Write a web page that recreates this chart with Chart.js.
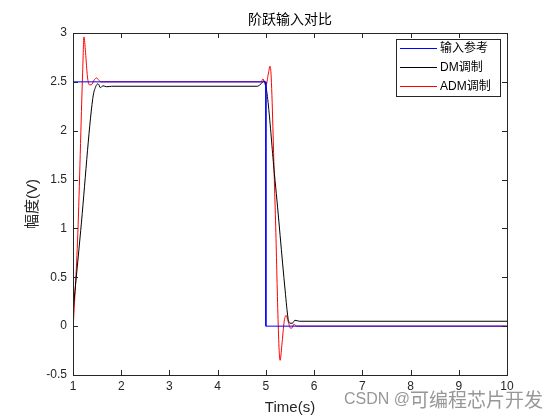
<!DOCTYPE html>
<html>
<head>
<meta charset="utf-8">
<script src="https://cdn.jsdelivr.net/npm/chart.js@4/dist/chart.umd.min.js"></script>
<style>
  html, body { margin: 0; padding: 0; background: #fff; }
  #wrap { width: 560px; height: 420px; }
</style>
</head>
<body>
<div id="wrap"><canvas id="chart" width="560" height="420"></canvas></div>
<script>
// step response comparison: reference input, DM output, ADM output
const seriesLabels = ["输入参考", "DM调制", "ADM调制"];
const seriesColors = ["#0000ff", "#000000", "#ff0000"];

const timeRef = [1, 5, 5, 10];
const inputRef = [2.5, 2.5, 0, 0];

const timeDM = [1, 1.16, 1.41, 1.47, 1.52, 1.57, 1.62, 1.7, 1.8, 4.82, 4.9, 4.96, 5.19, 5.4, 5.46, 5.5, 5.55, 5.6, 5.7, 10];
const dmOut = [0.15, 0.98, 2.33, 2.45, 2.48, 2.44, 2.46, 2.45, 2.455, 2.455, 2.48, 2.51, 1.49, 0.36, 0.08, 0.03, 0.03, 0.06, 0.05, 0.05];

const timeADM = [1, 1.1, 1.2, 1.228, 1.26, 1.3, 1.34, 1.38, 1.44, 1.49, 1.53, 1.58, 4.9, 4.94, 5.0, 5.05, 5.085, 5.11, 5.19, 5.295, 5.33, 5.38, 5.42, 5.46, 5.51, 5.54, 5.58, 5.64, 10];
const admOut = [-0.05, 0.95, 2.6, 2.96, 2.8, 2.55, 2.47, 2.47, 2.52, 2.54, 2.52, 2.5, 2.5, 2.53, 2.46, 2.58, 2.66, 2.55, 1.25, -0.35, -0.2, 0.05, 0.11, 0.05, -0.02, -0.02, 0.02, 0, 0];

const xTicks = [1, 2, 3, 4, 5, 6, 7, 8, 9, 10];
const yTicks = [-0.5, 0, 0.5, 1, 1.5, 2, 2.5, 3];

const toPoints = (xs, ys) => xs.map((x, i) => ({ x, y: ys[i] }));

const tickFont = { family: "'Liberation Sans', Arial, sans-serif", size: 12 };
const cjkFont = "'Liberation Sans', 'Noto Sans CJK SC', sans-serif";

// MATLAB-like box with inward ticks, legend and watermark
const matlabAxes = {
  id: "matlabAxes",
  afterDatasetsDraw(chart) {
    const { ctx, chartArea: a, scales } = chart;
    const len = 5;
    ctx.save();
    ctx.strokeStyle = "#262626";
    ctx.lineWidth = 1;
    ctx.beginPath();
    for (const v of xTicks) {
      const px = Math.round(scales.x.getPixelForValue(v)) + 0.5;
      ctx.moveTo(px, a.bottom); ctx.lineTo(px, a.bottom - len);
      ctx.moveTo(px, a.top); ctx.lineTo(px, a.top + len);
    }
    for (const v of yTicks) {
      const py = Math.round(scales.y.getPixelForValue(v)) + 0.5;
      ctx.moveTo(a.left, py); ctx.lineTo(a.left + len, py);
      ctx.moveTo(a.right, py); ctx.lineTo(a.right - len, py);
    }
    ctx.stroke();
    ctx.strokeRect(Math.round(a.left) + 0.5, Math.round(a.top) + 0.5,
      Math.round(a.right - a.left), Math.round(a.bottom - a.top));

    // legend
    const lx = 396, ly = 39, lw = 104, lh = 57;
    ctx.fillStyle = "#fff";
    ctx.fillRect(lx, ly, lw, lh);
    ctx.strokeStyle = "#262626";
    ctx.strokeRect(lx + 0.5, ly + 0.5, lw, lh);
    ctx.font = "12px " + cjkFont;
    ctx.textBaseline = "middle";
    seriesLabels.forEach((label, i) => {
      const y = ly + 9 + i * 19 + 0.5;
      ctx.strokeStyle = seriesColors[i];
      ctx.beginPath();
      ctx.moveTo(lx + 4, y); ctx.lineTo(lx + 41, y);
      ctx.stroke();
      ctx.fillStyle = "#000";
      ctx.fillText(label, lx + 44, y);
    });
    ctx.restore();
  },
  afterDraw(chart) {
    const { ctx } = chart;
    ctx.save();
    ctx.fillStyle = "rgba(140,140,140,0.9)";
    ctx.textBaseline = "middle";
    ctx.font = "19px 'Noto Sans CJK SC', sans-serif";
    const cjk = "可编程芯片开发";
    const cjkW = ctx.measureText(cjk).width;
    ctx.fillText(cjk, 543 - cjkW, 400);
    ctx.font = "16px 'Liberation Sans', Arial, sans-serif";
    ctx.textAlign = "right";
    ctx.fillText("CSDN @", 543 - cjkW, 400);
    ctx.restore();
  },
};

const datasets = [
  { data: toPoints(timeRef, inputRef), tension: 0 },
  { data: toPoints(timeDM, dmOut), cubicInterpolationMode: "monotone" },
  { data: toPoints(timeADM, admOut), cubicInterpolationMode: "monotone" },
].map((d, i) => ({
  ...d,
  label: seriesLabels[i],
  borderColor: seriesColors[i],
  borderWidth: 1,
  pointRadius: 0,
  fill: false,
}));

new Chart(document.getElementById("chart"), {
  type: "line",
  data: { datasets },
  options: {
    responsive: false,
    animation: false,
    layout: { padding: { left: 0, right: 53, top: 0, bottom: 0 } },
    plugins: {
      legend: { display: false },
      tooltip: { enabled: false },
      title: {
        display: true,
        fullSize: false,
        text: "阶跃输入对比",
        color: "#000",
        font: { family: cjkFont, size: 14, weight: "normal" },
        padding: { top: 12, bottom: 4.2 },
      },
    },
    scales: {
      x: {
        type: "linear",
        min: 1,
        max: 10,
        afterBuildTicks: (s) => { s.ticks = xTicks.map((v) => ({ value: v })); },
        afterFit: (s) => { s.height = 45; },
        grid: { display: false, drawTicks: false },
        border: { display: false },
        ticks: { color: "#262626", font: tickFont, padding: 4, maxRotation: 0, callback: (v) => String(v) },
        title: {
          display: true,
          text: "Time(s)",
          color: "#262626",
          font: { family: cjkFont, size: 15 },
          padding: { top: 0, bottom: 3 },
        },
      },
      y: {
        min: -0.5,
        max: 3,
        afterBuildTicks: (s) => { s.ticks = yTicks.map((v) => ({ value: v })); },
        afterFit: (s) => { s.width = 73; },
        grid: { display: false, drawTicks: false },
        border: { display: false },
        ticks: { color: "#262626", font: tickFont, padding: 6, callback: (v) => String(v) },
        title: {
          display: true,
          text: "幅度(V)",
          color: "#262626",
          font: { family: cjkFont, size: 15 },
          padding: { top: 24, bottom: 0 },
        },
      },
    },
  },
  plugins: [matlabAxes],
});
</script>
</body>
</html>
